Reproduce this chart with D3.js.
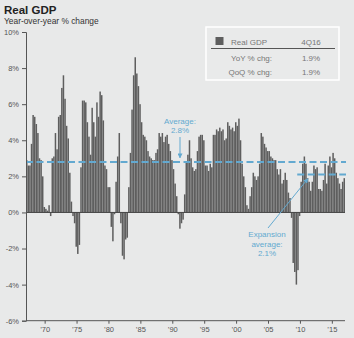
<!DOCTYPE html>
<html>
<head>
<meta charset="utf-8">
<script src="https://cdn.jsdelivr.net/npm/d3@7"></script>
<style>
  html, body { margin: 0; padding: 0; background: #e8e9e9; }
  svg { display: block; font-family: "Liberation Sans", Arial, sans-serif; }
  .axis path, .axis line { stroke: #555; }
  .axis text { fill: #555; font-size: 7.5px; }
</style>
</head>
<body>
<div id="chart"></div>
<script>
// quarterly real GDP, year-over-year % change, 1Q67 - 4Q16
var startYear = 1967;
var yoyValues = [
  2.9, 2.6, 2.6, 3.8,   5.4, 5.3, 4.9, 4.4,   3.0, 2.9, 2.0, 0.3,   0.2, 0.1, 0.4, -0.2,
  3.0, 3.1, 4.4, 3.5,   5.3, 5.4, 6.9, 7.6,   6.3, 4.8, 4.1, 2.2,   0.6, -0.2, -0.6, -1.9,
  -2.3, -1.8, 2.5, 6.2, 6.2, 6.1, 5.0, 4.2,   3.2, 5.8, 5.0, 4.2,   6.1, 5.3, 6.7, 6.5,
  5.1, 2.6, 2.4, 1.4,   1.4, -0.8, -1.6, -0.1, 1.7, 3.1, 4.4, -0.6, -2.4, -2.6, -1.5, -1.4,
  1.4, 3.3, 5.7, 7.6,   8.6, 7.7, 7.0, 6.0,   5.0, 4.3, 4.2, 4.0,   3.4, 3.1, 3.0, 2.9,
  2.9, 3.3, 3.5, 4.4,   4.2, 4.4, 3.9, 4.2,   4.3, 3.8, 3.4, 2.9,   2.4, 1.6, 0.9, -0.1,
  -0.9, -0.6, -0.4, 1.0, 2.8, 3.2, 4.0, 3.0,  2.5, 2.3, 2.4, 3.4,   4.2, 4.3, 4.3, 4.0,
  2.6, 2.6, 2.3, 2.7,   2.5, 4.3, 4.3, 4.6,   4.5, 4.7, 4.5, 4.6,   4.0, 4.1, 5.0, 4.8,
  4.6, 4.7, 4.5, 5.0,   4.8, 5.2, 4.0, 2.7,   2.0, 1.4, 0.4, 0.2,   0.9, 1.4, 2.2, 2.0,
  1.8, 2.0, 2.7, 4.4,   4.2, 3.8, 3.6, 3.4,   3.4, 3.1, 3.0, 2.9,   2.9, 2.4, 2.1, 2.4,
  1.6, 1.8, 2.2, 1.8,   1.1, 0.8, -0.3, -2.8, -3.3, -4.0, -3.2, -0.2, 1.7, 2.7, 3.1, 2.7,
  1.9, 1.7, 1.2, 1.7,   2.6, 2.4, 2.5, 1.3,   1.3, 1.2, 1.8, 2.7,   1.6, 2.6, 3.1, 2.5,
  3.3, 3.0, 2.2, 1.9,   1.6, 1.3, 1.7, 1.9
];
var tickYears = [1970, 1975, 1980, 1985, 1990, 1995, 2000, 2005, 2010, 2015];
var tickLabels = ["\u201970", "\u201975", "\u201980", "\u201985", "\u201990", "\u201995", "\u201900", "\u201905", "\u201910", "\u201915"];
var yTicks = [-6, -4, -2, 0, 2, 4, 6, 8, 10];
var longRunAvg = 2.8;
var expansionAvg = 2.1;
var expansionStart = "2009Q3";
var legendHeader = ["Real GDP", "4Q16"];
var legendRows = [["YoY % chg:", "1.9%"], ["QoQ % chg:", "1.9%"]];

var quarters = yoyValues.map(function(v, i) {
  return (startYear + Math.floor(i / 4)) + "Q" + (i % 4 + 1);
});

var W = 354, H = 338;
var margin = {top: 32, right: 9, bottom: 17.3, left: 26};

var svg = d3.select("#chart").append("svg")
    .attr("width", W)
    .attr("height", H);

svg.append("rect").attr("width", W).attr("height", H).attr("fill", "#e8e9e9");

var x = d3.scaleBand()
    .domain(quarters)
    .range([margin.left, W - margin.right])
    .paddingInner(0.06);

var y = d3.scaleLinear()
    .domain([-6, 10])
    .range([H - margin.bottom, margin.top]);

// title
svg.append("text").attr("x", 4).attr("y", 13.5)
    .attr("font-size", 11.5).attr("font-weight", "bold").attr("fill", "#222")
    .text("Real GDP");
svg.append("text").attr("x", 4).attr("y", 24.3)
    .attr("font-size", 8.4).attr("fill", "#333")
    .text("Year-over-year % change");

// bars
svg.append("g").selectAll("rect")
  .data(yoyValues)
  .enter().append("rect")
    .attr("x", function(d, i) { return x(quarters[i]); })
    .attr("width", x.bandwidth())
    .attr("y", function(d) { return y(Math.max(0, d)); })
    .attr("height", function(d) { return Math.abs(y(d) - y(0)); })
    .attr("fill", "#5e5e5e");

// zero line
svg.append("line")
    .attr("x1", margin.left).attr("x2", W - margin.right)
    .attr("y1", y(0)).attr("y2", y(0))
    .attr("stroke", "#444").attr("stroke-width", 1);

// average lines
var blue = "#63a9d0";
svg.append("line")
    .attr("x1", margin.left).attr("x2", W - margin.right + 1)
    .attr("y1", y(longRunAvg)).attr("y2", y(longRunAvg))
    .attr("stroke", blue).attr("stroke-width", 2)
    .attr("stroke-dasharray", "7,3.5");
svg.append("line")
    .attr("x1", x(expansionStart)).attr("x2", W - margin.right + 1)
    .attr("y1", y(expansionAvg)).attr("y2", y(expansionAvg))
    .attr("stroke", blue).attr("stroke-width", 2)
    .attr("stroke-dasharray", "7,3.5");

// axes
var yAxis = d3.axisLeft(y)
    .tickValues(yTicks)
    .tickSize(4)
    .tickPadding(3)
    .tickFormat(function(d) { return d + "%"; });
svg.append("g")
    .attr("class", "axis")
    .attr("transform", "translate(" + margin.left + ",0)")
    .call(yAxis);

var xAxis = d3.axisBottom(x)
    .tickValues(tickYears.map(function(yr) { return yr + "Q1"; }))
    .tickSize(3)
    .tickPadding(3)
    .tickFormat(function(d) { return tickLabels[tickYears.indexOf(+d.slice(0, 4))]; });
var gx = svg.append("g")
    .attr("class", "axis")
    .attr("transform", "translate(0," + (H - margin.bottom) + ")")
    .call(xAxis);
gx.selectAll(".tick").attr("transform", function(d) { return "translate(" + x(d) + ",0)"; });
gx.select(".domain").attr("d", "M" + margin.left + ",0H" + (W - margin.right));

// annotations
var defs = svg.append("defs");
defs.append("marker")
    .attr("id", "arr").attr("viewBox", "0 0 10 10")
    .attr("refX", 9).attr("refY", 5)
    .attr("markerWidth", 5).attr("markerHeight", 5)
    .attr("orient", "auto")
  .append("path").attr("d", "M0,0L10,5L0,10z").attr("fill", blue);

var ann = svg.append("g").attr("fill", blue).attr("font-size", 8).attr("text-anchor", "middle");
ann.append("text").attr("x", 180).attr("y", 124).text("Average:");
ann.append("text").attr("x", 180).attr("y", 133).text(longRunAvg + "%");
svg.append("line")
    .attr("x1", 180).attr("x2", 180).attr("y1", 137).attr("y2", y(longRunAvg) - 4)
    .attr("stroke", blue).attr("stroke-width", 1)
    .attr("marker-end", "url(#arr)");

ann.append("text").attr("x", 267).attr("y", 237).text("Expansion");
ann.append("text").attr("x", 267).attr("y", 246.5).text("average:");
ann.append("text").attr("x", 267).attr("y", 256).text(expansionAvg + "%");
svg.append("line")
    .attr("x1", 268).attr("y1", 228).attr("x2", 308).attr("y2", y(expansionAvg) + 4)
    .attr("stroke", blue).attr("stroke-width", 1)
    .attr("marker-end", "url(#arr)");

// legend box
var lg = svg.append("g");
lg.append("rect")
    .attr("x", 206).attr("y", 27).attr("width", 133).attr("height", 53)
    .attr("fill", "#e9eaea").attr("stroke", "#fff").attr("stroke-width", 1.5);
lg.append("rect").attr("x", 215.5).attr("y", 37).attr("width", 8).attr("height", 8).attr("fill", "#5e5e5e");
lg.append("text").attr("x", 231).attr("y", 44.5).attr("font-size", 8).attr("fill", "#777").text(legendHeader[0]);
lg.append("text").attr("x", 311).attr("y", 44.5).attr("font-size", 8).attr("fill", "#777")
    .attr("text-anchor", "middle").text(legendHeader[1]);
lg.append("line").attr("x1", 211).attr("x2", 335).attr("y1", 48.5).attr("y2", 48.5)
    .attr("stroke", "#555").attr("stroke-width", 1.2);
legendRows.forEach(function(r, i) {
  lg.append("text").attr("x", 272).attr("y", 60.5 + i * 14).attr("font-size", 8).attr("fill", "#777")
      .attr("text-anchor", "end").text(r[0]);
  lg.append("text").attr("x", 311).attr("y", 60.5 + i * 14).attr("font-size", 8).attr("fill", "#777")
      .attr("text-anchor", "middle").text(r[1]);
});
</script>
</body>
</html>
